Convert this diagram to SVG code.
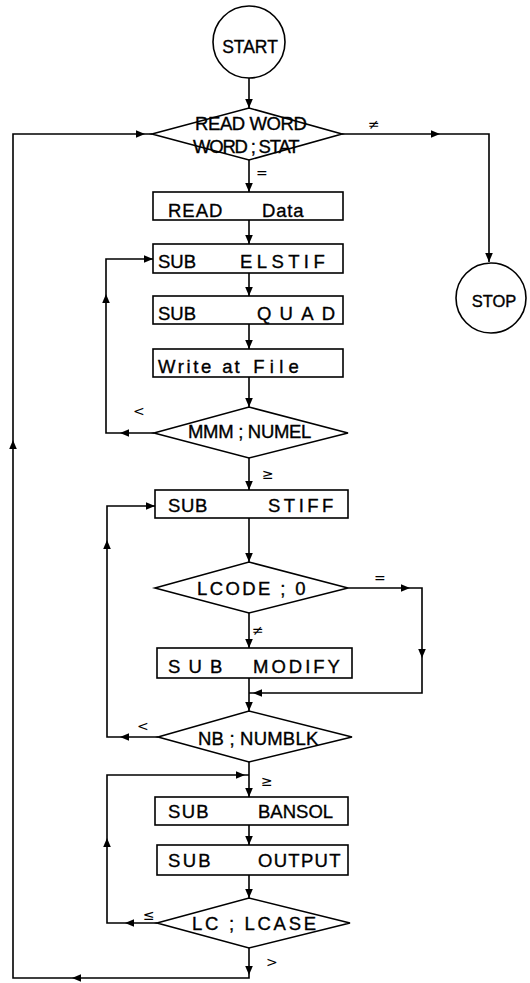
<svg xmlns="http://www.w3.org/2000/svg" xmlns:xlink="http://www.w3.org/1999/xlink" width="530" height="983" viewBox="0 0 530 983">
<style>
.s{fill:none;stroke:#000;stroke-width:1.6}
.t{font-family:"Liberation Sans",Arial,sans-serif;font-size:18.5px;fill:#000;stroke:#000;stroke-width:0.35}
.c{font-family:"DejaVu Sans","Liberation Sans",sans-serif;font-size:14px;fill:#000}
</style>
<defs>
<path id="ah" d="M0,0 L-9,-3.8 L-9,3.8 Z" fill="#000"/>
</defs>
<rect width="530" height="983" fill="#fff"/>
<g id="connectors">
<path class="s" d="M249,78 V108"/>
<use href="#ah" transform="translate(249,108) rotate(90)"/>
<path class="s" d="M342,134 H489 V262"/>
<use href="#ah" transform="translate(440,134)"/>
<use href="#ah" transform="translate(489,262) rotate(90)"/>
<path class="s" d="M249,160 V192"/>
<use href="#ah" transform="translate(249,192) rotate(90)"/>
<path class="s" d="M249,220 V244"/>
<use href="#ah" transform="translate(249,244) rotate(90)"/>
<path class="s" d="M249,273 V296"/>
<use href="#ah" transform="translate(249,296) rotate(90)"/>
<path class="s" d="M249,324 V349"/>
<use href="#ah" transform="translate(249,349) rotate(90)"/>
<path class="s" d="M249,377 V407"/>
<use href="#ah" transform="translate(249,407) rotate(90)"/>
<path class="s" d="M154,433 H106 V259 H153"/>
<use href="#ah" transform="translate(120,433) rotate(180)"/>
<use href="#ah" transform="translate(106,294) rotate(-90)"/>
<use href="#ah" transform="translate(153,259)"/>
<path class="s" d="M249,458 V490"/>
<use href="#ah" transform="translate(249,490) rotate(90)"/>
<path class="s" d="M249,518 V562"/>
<use href="#ah" transform="translate(249,562) rotate(90)"/>
<path class="s" d="M348,588 H422 V693 H249"/>
<use href="#ah" transform="translate(410,588)"/>
<use href="#ah" transform="translate(422,658) rotate(90)"/>
<use href="#ah" transform="translate(253,693) rotate(180)"/>
<path class="s" d="M249,613 V648"/>
<use href="#ah" transform="translate(249,648) rotate(90)"/>
<path class="s" d="M249,678 V711"/>
<use href="#ah" transform="translate(249,711) rotate(90)"/>
<path class="s" d="M158,737 H107 V506 H155"/>
<use href="#ah" transform="translate(120,737) rotate(180)"/>
<use href="#ah" transform="translate(107,540) rotate(-90)"/>
<use href="#ah" transform="translate(155,506)"/>
<path class="s" d="M249,762 V797"/>
<use href="#ah" transform="translate(249,797) rotate(90)"/>
<path class="s" d="M249,825 V845"/>
<use href="#ah" transform="translate(249,845) rotate(90)"/>
<path class="s" d="M249,875 V898"/>
<use href="#ah" transform="translate(249,898) rotate(90)"/>
<path class="s" d="M157,923 H107 V775 H249"/>
<use href="#ah" transform="translate(125,923) rotate(180)"/>
<use href="#ah" transform="translate(107,838) rotate(-90)"/>
<use href="#ah" transform="translate(245,775)"/>
<path class="s" d="M249,948 V978 H13 V134 H152"/>
<use href="#ah" transform="translate(249,975) rotate(90)"/>
<use href="#ah" transform="translate(72,978) rotate(180)"/>
<use href="#ah" transform="translate(13,440) rotate(-90)"/>
<use href="#ah" transform="translate(145,134)"/>
<text class="c" x="368" y="129">≠</text>
<text class="c" x="256" y="178">=</text>
<text class="c" x="133" y="416">&lt;</text>
<text class="c" x="262" y="479">≥</text>
<text class="c" x="374" y="583">=</text>
<text class="c" x="252" y="635">≠</text>
<text class="c" x="137" y="731">&lt;</text>
<text class="c" x="261" y="786">≥</text>
<text class="c" x="143" y="920">≤</text>
<text class="c" x="266" y="967">&gt;</text>
</g>
<g id="start">
<circle class="s" cx="249" cy="42" r="36"/>
<text class="t" x="250" y="53" text-anchor="middle" style="font-size:17.5px">START</text>
</g>
<g id="readword">
<path class="s" d="M152,134 L249,108 L342,134 L249,160 Z"/>
<text class="t" x="195" y="130" letter-spacing="-0.4">READ WORD</text>
<text class="t" x="193" y="153" letter-spacing="-1.2">WORD ; STAT</text>
</g>
<g id="stop">
<circle class="s" cx="491" cy="298" r="35"/>
<text class="t" x="494" y="307" text-anchor="middle" style="font-size:16.5px">STOP</text>
</g>
<g id="readdata">
<rect class="s" x="153" y="192" width="190" height="28"/>
<text class="t" y="217"><tspan x="168" letter-spacing="1">READ </tspan><tspan x="262" letter-spacing="0.8">Data</tspan></text>
</g>
<g id="elstif">
<rect class="s" x="153" y="244" width="190" height="29"/>
<text class="t" y="268"><tspan x="158">SUB </tspan><tspan x="240" letter-spacing="4.4">ELSTIF</tspan></text>
</g>
<g id="quad">
<rect class="s" x="153" y="296" width="190" height="28"/>
<text class="t" y="320"><tspan x="158">SUB </tspan><tspan x="257" letter-spacing="8.2">QUAD</tspan></text>
</g>
<g id="write">
<rect class="s" x="153" y="349" width="190" height="28"/>
<text class="t" y="373"><tspan x="158" letter-spacing="2.6">Write</tspan><tspan x="215" letter-spacing="2"> at</tspan><tspan x="243" letter-spacing="5.2"> File</tspan></text>
</g>
<g id="mmm">
<path class="s" d="M154,433 L249,407 L348,433 L249,458 Z"/>
<text class="t" x="188" y="438" letter-spacing="-0.3">MMM ; NUMEL</text>
</g>
<g id="stiff">
<rect class="s" x="155" y="490" width="193" height="28"/>
<text class="t" y="512"><tspan x="168" letter-spacing="0.6">SUB </tspan><tspan x="268" letter-spacing="3.5">STIFF</tspan></text>
</g>
<g id="lcode">
<path class="s" d="M155,588 L249,562 L348,588 L249,613 Z"/>
<text class="t" x="197" y="595" letter-spacing="2.4">LCODE ; 0</text>
</g>
<g id="modify">
<rect class="s" x="157" y="648" width="195" height="30"/>
<text class="t" y="673"><tspan x="168" letter-spacing="8.2">SUB </tspan><tspan x="253" letter-spacing="3">MODIFY</tspan></text>
</g>
<g id="nb">
<path class="s" d="M158,737 L249,711 L352,737 L249,762 Z"/>
<text class="t" x="198" y="745" letter-spacing="0.2">NB ; NUMBLK</text>
</g>
<g id="bansol">
<rect class="s" x="155" y="797" width="193" height="28"/>
<text class="t" y="818"><tspan x="168" letter-spacing="1.3">SUB </tspan><tspan x="258">BANSOL</tspan></text>
</g>
<g id="output">
<rect class="s" x="157" y="845" width="191" height="30"/>
<text class="t" y="867"><tspan x="168" letter-spacing="2.3">SUB </tspan><tspan x="258" letter-spacing="1.3">OUTPUT</tspan></text>
</g>
<g id="lc">
<path class="s" d="M157,923 L249,898 L350,923 L249,948 Z"/>
<text class="t" x="192" y="930" letter-spacing="2.7">LC ; LCASE</text>
</g>
</svg>
